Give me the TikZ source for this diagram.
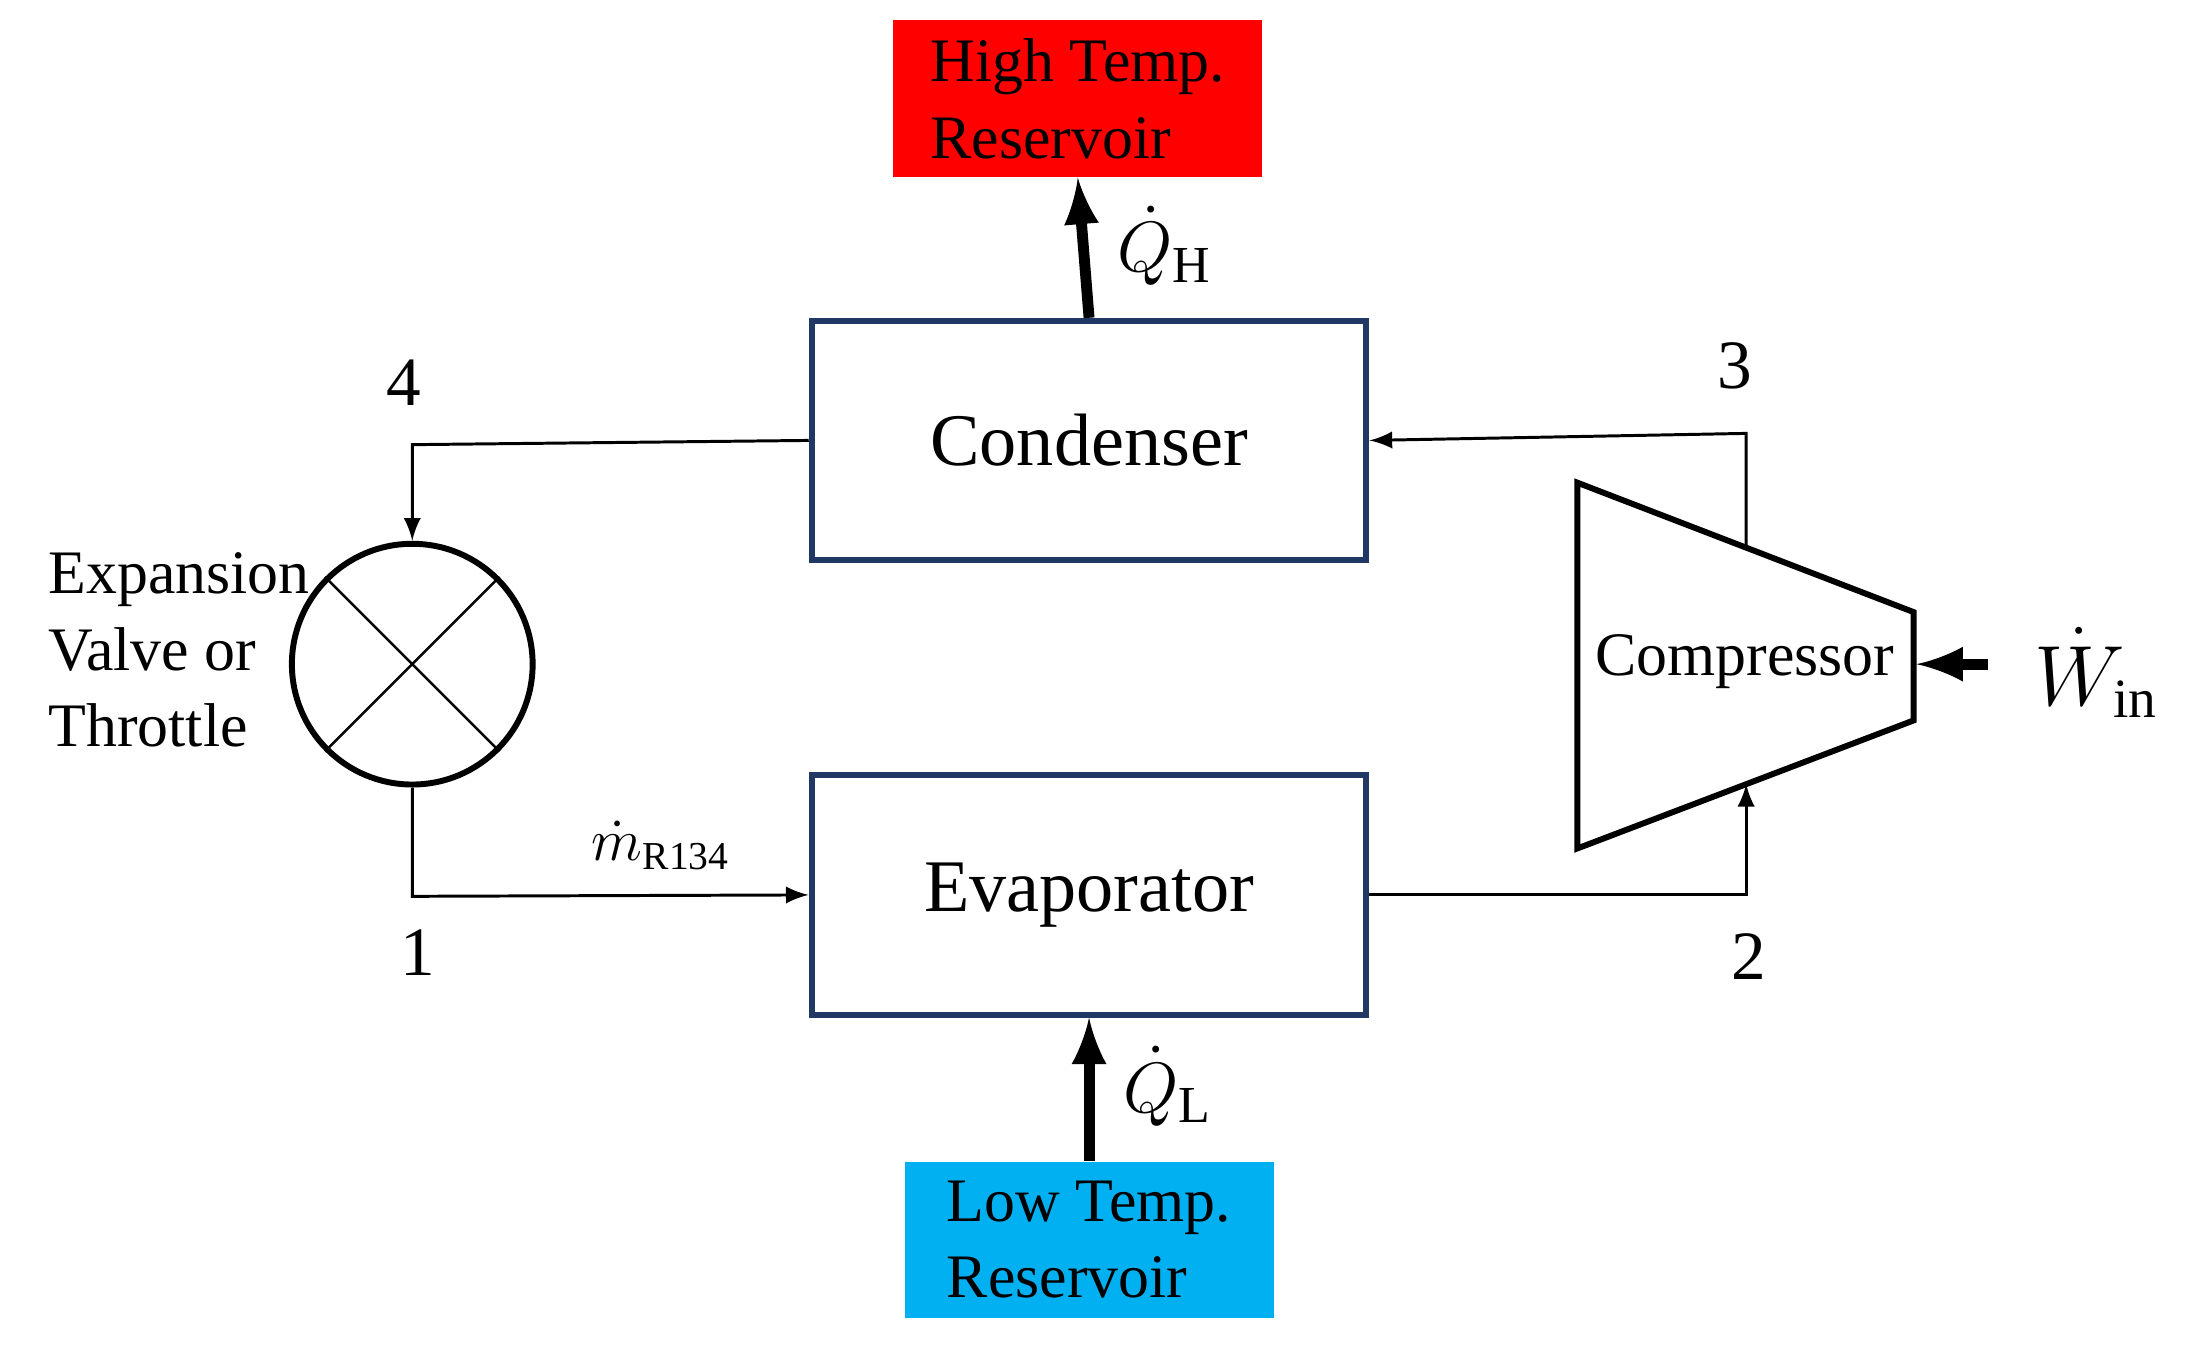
\documentclass[tikz,border=0pt]{standalone}
\usepackage{fontspec}
\setmainfont{Liberation Serif}
\definecolor{boxblue}{RGB}{31,56,100}
\definecolor{hotred}{RGB}{255,0,0}
\definecolor{coldblue}{RGB}{0,176,240}
\begin{document}
\begin{tikzpicture}[x=0.01cm,y=-0.01cm,
    unit/.style={draw=boxblue,line width=1.2pt,minimum width=3.94cm,minimum height=1.7cm,font=\fontsize{15}{18}\selectfont},
    reservoir/.style={minimum width=2.62cm,minimum height=1.11cm,align=left,font=\fontsize{12.5}{15.5}\selectfont},
    heat/.style={-latex,line width=2.2pt},
    flow/.style={-latex,line width=0.6pt},
    statelbl/.style={font=\fontsize{14}{16}\selectfont}]
    \useasboundingbox (0,0) rectangle (1560,959);
    \node[unit] (cond) at (774,313) {Condenser};
    \node[unit] (evap) at (774,636) {Evaporator};
    \node[reservoir,fill=hotred] (hot) at (766,70) {High Temp.\\Reservoir};
    \node[reservoir,fill=coldblue] (cold) at (774,881) {Low Temp.\\Reservoir};
    \node[draw,circle,line width=1.2pt,minimum size=1.71cm] (valve) at (293,472) {};
    \draw[line width=0.5pt] (valve.45) -- (valve.225) (valve.135) -- (valve.315);
    \node[align=left,anchor=west,font=\fontsize{12.5}{15.5}\selectfont] (valvetxt) at (22,462) {Expansion\\Valve or\\Throttle};
    \draw[line width=1.2pt] (1121,343) -- (1360,435) -- (1360,512) -- (1121,603) -- cycle;
    \node[font=\fontsize{12.5}{15}\selectfont] (comp) at (1240,470) {Compressor};
    \coordinate (cin) at (1241,557);
    \coordinate (cout) at (1241,388);
    \coordinate (cw) at (1362,472);

    \draw[heat] (cond.north) -- (hot.south);
    \draw[heat] (cold.north) -- (evap.south);
    \draw[heat] (1413,472) -- (cw);
    \node[font=\fontsize{15}{18}\selectfont] (qh) at (828,175) {$\dot{Q}_{\mathrm{H}}$};
    \node[font=\fontsize{15}{18}\selectfont] (ql) at (830,772) {$\dot{Q}_{\mathrm{L}}$};
    \node[font=\fontsize{16}{18}\selectfont] (win) at (1490,478) {$\dot{W}_{\mathrm{in}}$};

    \draw[flow] (cond.west) -- (293,316) -- (valve.north);
    \draw[flow] (valve.south) -- (293,637) -- (evap.west);
    \draw[flow] (evap.east) -- (1241,636) -- (cin);
    \draw[flow] (cout) -- (1241,308) -- (cond.east);
    \node[font=\fontsize{12}{14}\selectfont] (mdot) at (470,601) {$\dot{m}_{\mathrm{R134}}$};

    \node[statelbl] (s4) at (287,272) {4};
    \node[statelbl] (s1) at (297,677) {1};
    \node[statelbl] (s3) at (1233,260) {3};
    \node[statelbl] (s2) at (1243,680) {2};
\end{tikzpicture}
\end{document}
